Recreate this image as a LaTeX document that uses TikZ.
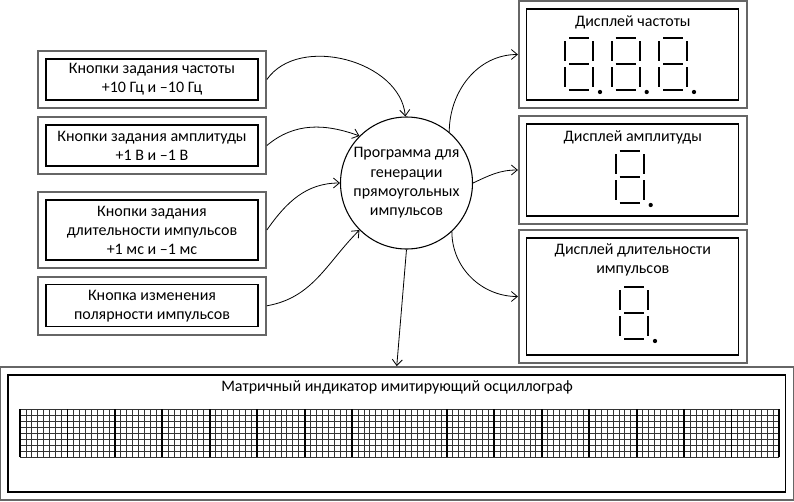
\documentclass[tikz,border=0pt]{standalone}
\usepackage{fontspec}
\setmainfont{Carlito}
\usetikzlibrary{arrows.meta,fit}

\tikzset{
	vnutr/.style={draw, line width=0.9pt, align=center, inner sep=0pt, font=\fontsize{12}{14.3}\selectfont},
	vnesh/.style={draw=black!60, line width=1.2pt, inner sep=5.6pt},
	nadpis/.style={align=center, inner sep=0pt, font=\fontsize{12}{14.3}\selectfont},
	strelka/.style={-{Straight Barb[length=4.5pt,width=7.5pt]}, line width=0.6pt},
	segment/.style={line width=1.5pt},
	setka/.style={black!80, line width=0.6pt},
	cifra/.pic={
		\draw[segment] (4,0) -- (24,0);
		\draw[segment] (0,-3) -- (0,-23);
		\draw[segment] (28,-3) -- (28,-23);
		\draw[segment] (4,-26) -- (24,-26);
		\draw[segment] (0,-29) -- (0,-49);
		\draw[segment] (28,-29) -- (28,-49);
		\draw[segment] (4,-52) -- (24,-52);
		\fill (35,-54) circle (1.6pt);
	}
}

\begin{document}
\begin{tikzpicture}[x=0.75pt,y=0.75pt]
	\useasboundingbox (0,0) rectangle (794,-501);
	% knopki
	\node[vnutr, minimum width=159pt, minimum height=30.75pt] (k1) at (152,-79.5) {Кнопки задания частоты\\+10 Гц и –10 Гц};
	\node[vnesh, fit=(k1)] (k1o) {};
	\node[vnutr, minimum width=159pt, minimum height=30.75pt] (k2) at (152,-145.5) {Кнопки задания амплитуды\\+1 В и –1 В};
	\node[vnesh, fit=(k2)] (k2o) {};
	\node[vnutr, minimum width=159pt, minimum height=45pt] (k3) at (152,-230) {Кнопки задания\\длительности импульсов\\+1 мс и –1 мс};
	\node[vnesh, fit=(k3)] (k3o) {};
	\node[vnutr, minimum width=159pt, minimum height=31.5pt] (k4) at (152,-305.8) {Кнопка изменения\\полярности импульсов};
	\node[vnesh, fit=(k4)] (k4o) {};
	% programma
	\node[draw, circle, line width=0.8pt, minimum size=99pt, inner sep=0pt, align=center, font=\fontsize{12}{14.5}\selectfont] (krug) at (406.5,-183) {Программа для\\генерации\\прямоугольных\\импульсов};
	% displei
	\node[vnutr, minimum width=159pt, minimum height=68.25pt] (d1) at (632.8,-54.5) {};
	\node[vnesh, fit=(d1)] (d1o) {};
	\node[nadpis] (t1) at (632.8,-22) {Дисплей частоты};
	\pic at (565,-38) {cifra};
	\pic at (611.7,-38) {cifra};
	\pic at (659,-38) {cifra};
	\node[vnutr, minimum width=159pt, minimum height=69pt] (d2) at (632.8,-170) {};
	\node[vnesh, fit=(d2)] (d2o) {};
	\node[nadpis] (t2) at (632.8,-137) {Дисплей амплитуды};
	\pic at (615.7,-151) {cifra};
	\node[vnutr, minimum width=159pt, minimum height=87.75pt] (d3) at (632.8,-296.5) {};
	\node[vnesh, fit=(d3)] (d3o) {};
	\node[nadpis] (t3) at (632.8,-259.5) {Дисплей длительности\\импульсов};
	\pic at (620,-287) {cifra};
	% matrica
	\node[vnutr, minimum width=583.1pt, minimum height=87.75pt] (m) at (396.75,-433.5) {};
	\node[vnesh, fit=(m)] (mo) {};
	\node[nadpis] (tm) at (397,-387) {Матричный индикатор имитирующий осциллограф};
	\foreach \i in {0,...,128}
		\draw[setka] ({20+\i*5.9297},-409) -- ++(0,-48);
	\foreach \j in {0,...,8}
		\draw[setka] (20,-409-\j*6) -- (779,-409-\j*6);
	\foreach \i in {0,...,16}
		\draw[line width=1.4pt] ({20+\i*47.4375},-409) -- ++(0,-48);
	% strelki
	\draw[strelka] (k1o.east) to[out=55, in=95] (krug.91);
	\draw[strelka] (k2o.east) to[out=40, in=160] (krug.135);
	\draw[strelka] (k3o.east) to[out=55, in=180] (krug.180);
	\draw[strelka] (k4o.east) to[out=10, in=225] (krug.225);
	\draw[strelka] (krug.50) to[out=90, in=180] (d1o.west);
	\draw[strelka] (krug.0) to[out=25, in=180] (d2o.west);
	\draw[strelka] (krug.313) to[out=-90, in=180] (d3o.west);
	\draw[strelka] (krug.south) -- (mo.north);
\end{tikzpicture}
\end{document}
